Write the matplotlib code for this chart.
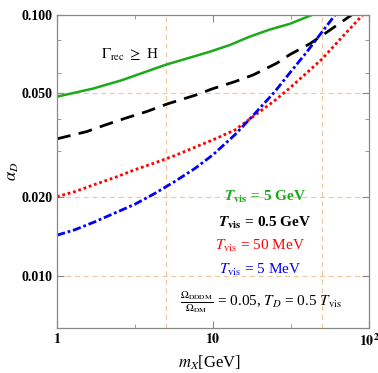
import matplotlib
matplotlib.use("Agg")
import matplotlib.pyplot as plt
from matplotlib.ticker import FixedLocator, NullFormatter, FixedFormatter

plt.rcParams['font.family'] = ['Liberation Serif', 'DejaVu Serif']
plt.rcParams['mathtext.fontset'] = 'stix'

# curves: m_X [GeV] vs alpha_D
m_green = [1, 1.7, 2.6, 5, 9.55, 12.8, 17.2, 23.2, 31.1, 43]
a_green = [0.0486, 0.0522, 0.0562, 0.0645, 0.0723, 0.0767, 0.0826, 0.0880, 0.0925, 0.100]

m_black = [1, 1.55, 2.05, 2.75, 3.75, 5.1, 7.67, 10, 13.8, 18.1, 25.6, 31.1, 41.8, 56, 77.2]
a_black = [0.0335, 0.0357, 0.0379, 0.0402, 0.0426, 0.0456, 0.0492, 0.0522, 0.0555, 0.0589,
           0.0653, 0.0705, 0.0776, 0.0874, 0.100]

m_red = [1, 1.3, 1.75, 2.35, 3.16, 4.25, 5.7, 7.67, 10, 13.8, 18.1, 24.9, 31.1, 39.9, 50, 65, 91]
a_red = [0.0201, 0.0210, 0.0224, 0.0238, 0.0255, 0.0271, 0.0289, 0.0311, 0.0332, 0.0362,
         0.0408, 0.0470, 0.0525, 0.0600, 0.0678, 0.0805, 0.100]

m_blue = [1, 1.3, 1.75, 2.35, 3.16, 4.25, 5.7, 7.67, 10, 13.8, 18.1, 24.9, 31.1, 39.9, 50, 60.6]
a_blue = [0.0143, 0.0150, 0.0161, 0.0174, 0.0188, 0.0207, 0.0230, 0.0258, 0.0291, 0.0347,
          0.0412, 0.0508, 0.0600, 0.0721, 0.0861, 0.100]

y_ticks = [0.010, 0.020, 0.050, 0.100]
y_labels = ['0.010', '0.020', '0.050', '0.100']
y_minor = [0.03, 0.04, 0.06, 0.08]
x_ticks = [1, 10, 100]
x_labels = [r'$\mathbf{1}$', r'$\mathbf{10}$', r'$\mathbf{10^2}$']
x_minor = [3.16, 31.6]

grid_x = [5, 50]
grid_y = [0.01, 0.02, 0.05]

fig = plt.figure(figsize=(3.78, 3.73), dpi=100)
ax = fig.add_axes([57/378, 1 - 328/373, (369-57)/378, (328-15)/373])
ax.set_xscale('log')
ax.set_yscale('log')
ax.set_xlim(1, 100)
ax.set_ylim(0.0063, 0.1)

gc = '#f0c8a0'
for gx in grid_x:
    ax.axvline(gx, color=gc, ls=(0, (4, 3)), lw=0.9, zorder=0)
for gy in grid_y:
    ax.axhline(gy, color=gc, ls=(0, (4, 3)), lw=0.9, zorder=0)

ax.plot(m_green, a_green, color='#1aaa1a', lw=1.8)
ax.plot(m_black, a_black, color='black', lw=2.0, ls=(0, (5, 3)))
ax.plot(m_red, a_red, color='red', lw=2.0, ls=(0, (1, 1)))
ax.plot(m_blue, a_blue, color='blue', lw=2.0, ls=(0, (3, 1, 1, 1)))

ax.yaxis.set_major_locator(FixedLocator(y_ticks))
ax.yaxis.set_major_formatter(FixedFormatter(y_labels))
ax.yaxis.set_minor_locator(FixedLocator(y_minor))
ax.yaxis.set_minor_formatter(NullFormatter())
ax.xaxis.set_major_locator(FixedLocator(x_ticks))
ax.xaxis.set_major_formatter(FixedFormatter(x_labels))
ax.xaxis.set_minor_locator(FixedLocator(x_minor))
ax.xaxis.set_minor_formatter(NullFormatter())

ax.tick_params(which='both', direction='in', top=True, right=True, color='#888888')
ax.tick_params(which='major', length=5, width=0.8, labelsize=10, pad=3)
ax.tick_params(which='minor', length=3, width=0.6)
for lab in ax.get_yticklabels():
    lab.set_fontweight('bold')
for s in ax.spines.values():
    s.set_color('#888888')
    s.set_linewidth(0.9)

ax.set_xlabel(r'$m_X$[GeV]', fontsize=12, va='center')
ax.xaxis.set_label_coords(0.49, -0.112)
ax.set_ylabel(r'$\alpha_D$', fontsize=12, va='center')
ax.yaxis.set_label_coords(-0.14, 0.5)

ax.text(0.234, 0.872, r'$\Gamma_{\rm rec}$ $\geq$ H', transform=ax.transAxes,
        fontsize=11, ha='center', va='center')
ax.text(0.667, 0.419, r'$\boldsymbol{T}_{\mathbf{vis}}$ = 5 GeV', transform=ax.transAxes,
        fontsize=11, ha='center', va='center', color='#1aaa1a', fontweight='bold')
ax.text(0.665, 0.335, r'$\boldsymbol{T}_{\mathbf{vis}}$ = 0.5 GeV', transform=ax.transAxes,
        fontsize=11, ha='center', va='center', color='black', fontweight='bold')
ax.text(0.65, 0.262, r'$T_{\rm vis}$ = 50 MeV', transform=ax.transAxes,
        fontsize=11, ha='center', va='center', color='red')
ax.text(0.65, 0.185, r'$T_{\rm vis}$ = 5 MeV', transform=ax.transAxes,
        fontsize=11, ha='center', va='center', color='blue')
ax.text(0.394, 0.083, r'$\frac{\Omega_{\rm DDDM}}{\Omega_{\rm DM}}$ = 0.05, $T_D$ = 0.5 $T_{\rm vis}$',
        transform=ax.transAxes, fontsize=11, ha='left', va='center')

fig.savefig('out.png', dpi=100)
